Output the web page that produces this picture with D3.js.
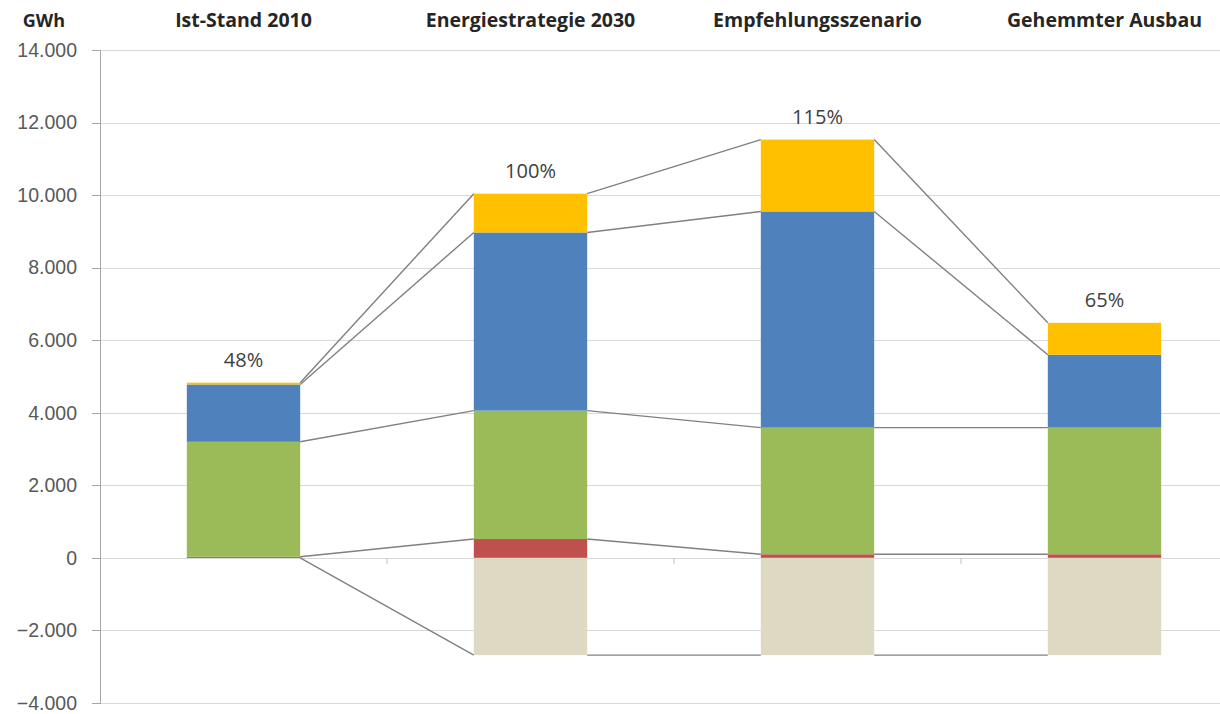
<!DOCTYPE html>
<html>
<head>
<meta charset="utf-8" />
<style>
    body { margin: 0; background: #fff; }
    svg { display: block; font-family: "Open Sans", "Liberation Sans", sans-serif; }
    .grid line { stroke: #d9d9d9; stroke-width: 1; shape-rendering: crispEdges; }
    .y_axis path, .y_axis line { stroke: #a6a6a6; shape-rendering: crispEdges; }
    .y_axis text { fill: #595959; font-size: 19.5px; }
    .serieslines line { stroke: #808080; stroke-width: 1.4; }
</style>
</head>
<body>
<svg width="1220" height="714"></svg>
<script src="https://d3js.org/d3.v7.min.js"></script>
<script>
    // chart data
    var categories = ["Ist-Stand 2010", "Energiestrategie 2030", "Empfehlungsszenario", "Gehemmter Ausbau"];
    var red    = [30, 520, 100, 100];
    var green  = [3170, 3540, 3490, 3490];
    var blue   = [1580, 4910, 5960, 2010];
    var yellow = [50, 1070, 1980, 880];
    var beige  = [0, -2680, -2680, -2680];
    var shares = ["48%", "100%", "115%", "65%"];
    var yTicks = [-4000, -2000, 0, 2000, 4000, 6000, 8000, 10000, 12000, 14000];

    var seriesKeys = ["red", "green", "blue", "yellow", "beige"];
    var colors = { red: "#c0504d", green: "#9bbb59", blue: "#4f81bd", yellow: "#ffc000", beige: "#ddd9c3" };

    var rows = categories.map(function (c, i) {
        return { cat: c, red: red[i], green: green[i], blue: blue[i], yellow: yellow[i], beige: beige[i], share: shares[i] };
    });

    var svg = d3.select("svg");
    var plotLeft = 100, plotRight = 1248, plotTop = 50, plotBottom = 703;

    var x = d3.scaleBand()
        .domain(categories)
        .range([plotLeft, plotRight])
        .paddingInner(0.605)
        .paddingOuter(0.3025);

    var y = d3.scaleLinear()
        .domain([-4000, 14000])
        .range([plotBottom, plotTop]);

    var fmt = function (d) { return d3.format(",")(d).replace(/,/g, "."); };

    // gridlines
    svg.append("g")
        .attr("class", "grid")
        .selectAll("line")
        .data(yTicks)
        .enter().append("line")
        .attr("x1", plotLeft)
        .attr("x2", 1220)
        .attr("y1", function (d) { return Math.round(y(d)) + 0.5; })
        .attr("y2", function (d) { return Math.round(y(d)) + 0.5; });

    // y axis
    svg.append("g")
        .attr("class", "y_axis")
        .attr("transform", "translate(" + plotLeft + ",0)")
        .call(d3.axisLeft(y).tickValues(yTicks).tickFormat(fmt).tickSize(8).tickSizeOuter(8).tickPadding(15))
        .call(function (g) { g.select(".domain").attr("stroke", "#a6a6a6"); });

    // category ticks on the zero line
    var step = x.step();
    svg.append("g")
        .selectAll("line")
        .data(d3.range(1, categories.length))
        .enter().append("line")
        .attr("x1", function (d) { return plotLeft + d * step; })
        .attr("x2", function (d) { return plotLeft + d * step; })
        .attr("y1", y(0))
        .attr("y2", y(0) + 6)
        .attr("stroke", "#bfbfbf");

    var stack = d3.stack()
        .keys(seriesKeys)
        .offset(d3.stackOffsetDiverging);
    var stacked = stack(rows);

    // series lines (drawn under the bars)
    var lines = [];
    stacked.forEach(function (s) {
        for (var i = 0; i < s.length - 1; i++) {
            var a = s[i], b = s[i + 1];
            var va = s.key === "beige" ? a[0] : a[1];
            var vb = s.key === "beige" ? b[0] : b[1];
            lines.push({ x1: x(a.data.cat) + x.bandwidth(), y1: y(va), x2: x(b.data.cat), y2: y(vb) });
        }
    });
    svg.append("g")
        .attr("class", "serieslines")
        .selectAll("line")
        .data(lines)
        .enter().append("line")
        .attr("x1", function (d) { return d.x1; })
        .attr("y1", function (d) { return d.y1; })
        .attr("x2", function (d) { return d.x2; })
        .attr("y2", function (d) { return d.y2; });

    // bars
    svg.append("g")
        .selectAll("g")
        .data(stacked)
        .enter().append("g")
        .attr("fill", function (d) { return colors[d.key]; })
        .selectAll("rect")
        .data(function (d) { return d; })
        .enter().append("rect")
        .attr("x", function (d) { return x(d.data.cat); })
        .attr("width", x.bandwidth())
        .attr("y", function (d) { return y(Math.max(d[0], d[1])); })
        .attr("height", function (d) { return Math.abs(y(d[0]) - y(d[1])); });

    // percentage labels
    svg.append("g")
        .selectAll("text")
        .data(rows)
        .enter().append("text")
        .attr("x", function (d) { return x(d.cat) + x.bandwidth() / 2; })
        .attr("y", function (d) { return y(d.red + d.green + d.blue + d.yellow) - 16; })
        .attr("text-anchor", "middle")
        .attr("fill", "#404040")
        .style("font-size", "20px")
        .text(function (d) { return d.share; });

    // category headers
    svg.append("g")
        .selectAll("text")
        .data(categories)
        .enter().append("text")
        .attr("x", function (d) { return x(d) + x.bandwidth() / 2; })
        .attr("y", 27)
        .attr("text-anchor", "middle")
        .attr("fill", "#262626")
        .style("font-size", "19.5px")
        .style("font-weight", "bold")
        .text(function (d) { return d; });

    // unit label
    svg.append("text")
        .attr("x", 65)
        .attr("y", 27)
        .attr("text-anchor", "end")
        .attr("fill", "#262626")
        .style("font-size", "18px")
        .style("font-weight", "bold")
        .text("GWh");
</script>
</body>
</html>
